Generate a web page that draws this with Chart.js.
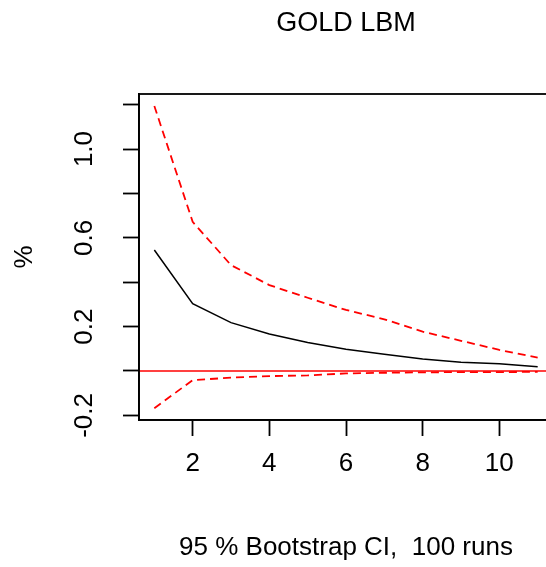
<!DOCTYPE html>
<html>
<head>
<meta charset="utf-8">
<script src="https://cdn.jsdelivr.net/npm/chart.js@4"></script>
<style>
  html, body { margin: 0; padding: 0; overflow: hidden; background: #fff; }
  #wrap { position: relative; width: 553px; height: 567px; }
</style>
</head>
<body>
<div id="wrap"><canvas id="c"></canvas></div>
<script>
// ---- data ----
const horizon = [1, 2, 3, 4, 5, 6, 7, 8, 9, 10, 11];
const irf     = [0.545, 0.303, 0.218, 0.167, 0.128, 0.098, 0.075, 0.054, 0.039, 0.033, 0.019];
const upperCI = [1.194, 0.672, 0.477, 0.387, 0.330, 0.275, 0.233, 0.177, 0.136, 0.095, 0.060];
const lowerCI = [-0.168, -0.041, -0.030, -0.023, -0.020, -0.011, -0.008, -0.006, -0.005, -0.005, -0.004];
const zeroLevel = 0;
const xTickValues = [2, 4, 6, 8, 10];
const yTickValues = [-0.2, 0.2, 0.6, 1.0];
const yTickLabels = ['-0.2', '0.2', '0.6', '1.0'];
const titleText = 'GOLD LBM';
const xLabel = '95 % Bootstrap CI,  100 runs';
const yLabel = '%';
const X_MIN = 0.6, X_MAX = 11.4;
const Y_MIN = -0.2208, Y_MAX = 1.248;

const FONT = "'Liberation Sans', Arial, Helvetica, sans-serif";
const toXY = (arr) => horizon.map((h, i) => ({ x: h, y: arr[i] }));

const boxPlugin = {
  id: 'box',
  afterDraw(chart) {
    const { ctx, chartArea: a } = chart;
    ctx.save();
    ctx.strokeStyle = '#000';
    ctx.lineWidth = 1.8;
    ctx.strokeRect(a.left, a.top, a.right - a.left, a.bottom - a.top);
    ctx.restore();
  }
};

new Chart(document.getElementById('c'), {
  type: 'line',
  data: {
    datasets: [
      { data: [{ x: X_MIN, y: zeroLevel }, { x: X_MAX, y: zeroLevel }], borderColor: '#ff0000', borderWidth: 1.5, pointRadius: 0, order: 0 },
      { data: toXY(upperCI), borderColor: '#ff0000', borderWidth: 1.8, borderDash: [8, 5], pointRadius: 0, order: 1 },
      { data: toXY(lowerCI), borderColor: '#ff0000', borderWidth: 1.8, borderDash: [8, 5], pointRadius: 0, order: 2 },
      { data: toXY(irf), borderColor: '#000000', borderWidth: 1.5, pointRadius: 0, order: 3 }
    ]
  },
  options: {
    responsive: true,
    maintainAspectRatio: false,
    animation: false,
    layout: { padding: 0 },
    plugins: {
      legend: { display: false },
      tooltip: { enabled: false },
      title: {
        display: true, text: titleText, fullSize: false,
        color: '#000', font: { family: FONT, size: 27, weight: 'normal', lineHeight: 1.2 },
        padding: { top: 7, bottom: 54.6 }
      }
    },
    scales: {
      x: {
        type: 'linear', min: X_MIN, max: X_MAX,
        afterFit(s) { s.height = 147; },
        afterBuildTicks(s) { s.ticks = xTickValues.map(v => ({ value: v })); },
        ticks: {
          autoSkip: false, maxRotation: 0, minRotation: 0, padding: 12.4, color: '#000',
          font: { family: FONT, size: 26, lineHeight: 1.2 },
          callback: (v) => String(v)
        },
        grid: { drawOnChartArea: false, drawTicks: true, tickLength: 16, tickWidth: 1.8, tickColor: '#000' },
        border: { display: true, color: '#000', width: 1.8 },
        title: {
          display: true, text: xLabel, color: '#000',
          font: { family: FONT, size: 26, lineHeight: 1.2 },
          padding: { top: 0, bottom: 3.4 }
        }
      },
      y: {
        type: 'linear', min: Y_MIN, max: Y_MAX,
        afterFit(s) { s.width = 139; },
        afterBuildTicks(s) {
          const out = [];
          for (let k = -1; k <= 6; k++) out.push({ value: Math.round(k * 2) / 10 });
          s.ticks = out;
        },
        ticks: {
          autoSkip: false, minRotation: 90, maxRotation: 90, crossAlign: 'center', padding: 15.6, color: '#000',
          font: { family: FONT, size: 26, lineHeight: 1.2 },
          callback: (v) => {
            const i = yTickValues.findIndex(t => Math.abs(t - v) < 1e-6);
            return i >= 0 ? yTickLabels[i] : '';
          }
        },
        grid: { drawOnChartArea: false, drawTicks: true, tickLength: 16, tickWidth: 1.8, tickColor: '#000' },
        border: { display: true, color: '#000', width: 1.8 },
        title: {
          display: true, text: yLabel, color: '#000',
          font: { family: FONT, size: 26, lineHeight: 1.2 },
          padding: { top: 9.4, bottom: 0 }
        }
      }
    }
  },
  plugins: [boxPlugin]
});
</script>
</body>
</html>
